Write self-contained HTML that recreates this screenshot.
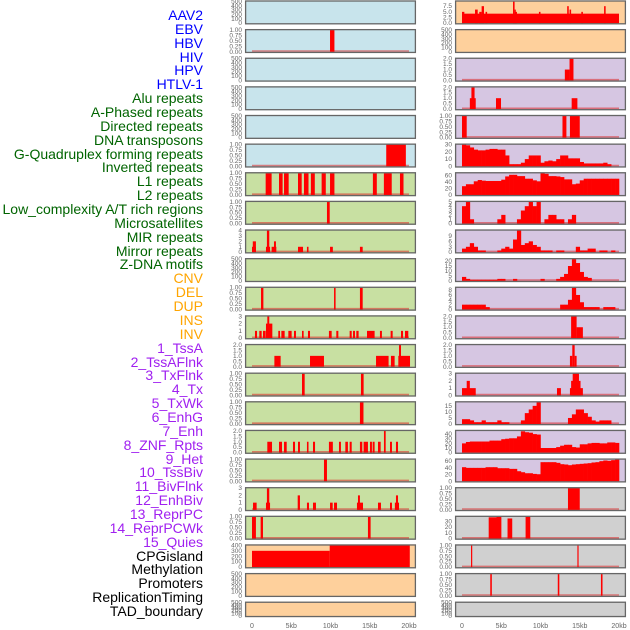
<!DOCTYPE html>
<html><head><meta charset="utf-8">
<style>
html,body{margin:0;padding:0;background:#fff;}
#wrap{position:relative;width:630px;height:630px;overflow:hidden;font-family:"Liberation Sans",sans-serif;}
.lab{position:absolute;right:427px;font-size:14px;line-height:14px;white-space:nowrap;}
svg{position:absolute;left:0;top:0;}
</style></head>
<body>
<div id="wrap">
<svg id="plot" width="630" height="630"></svg>
</div>
<script>
// ---- labels ----
const labelNames = ["AAV2","EBV","HBV","HIV","HPV","HTLV-1","Alu repeats","A-Phased repeats","Directed repeats","DNA transposons","G-Quadruplex forming repeats","Inverted repeats","L1 repeats","L2 repeats","Low_complexity A/T rich regions","Microsatellites","MIR repeats","Mirror repeats","Z-DNA motifs","CNV","DEL","DUP","INS","INV","1_TssA","2_TssAFlnk","3_TxFlnk","4_Tx","5_TxWk","6_EnhG","7_Enh","8_ZNF_Rpts","9_Het","10_TssBiv","11_BivFlnk","12_EnhBiv","13_ReprPC","14_ReprPCWk","15_Quies","CPGisland","Methylation","Promoters","ReplicationTiming","TAD_boundary"];
const labelGroups = [6,13,5,15,5];
const groupColors = ["#0000ff","#006400","#ffa500","#a020f0","#000000"];

// ---- tick sets ----
const T500 = [0,100,200,300,400,500];
const T1 = [0,0.25,0.5,0.75,1];
const T1L = ["0.00","0.25","0.50","0.75","1.00"];
const T2 = [0,0.5,1,1.5,2];
const T2L = ["0.0","0.5","1.0","1.5","2.0"];
const T3 = [0,1,2,3];
const T4 = [0,1,2,3,4];
const T400 = [0,100,200,300,400];
const TR0 = [0,2.5,5,7.5];
const TR0L = ["0.0","2.5","5.0","7.5"];
const T30 = [0,10,20,30];
const T60 = [0,20,40,60];
const T5 = [0,1,2,3,4,5];
const T9 = [0,3,6,9];
const T20 = [0,5,10,15,20];
const T8 = [0,2,4,6,8];
const T15 = [0,5,10,15];
const T40 = [0,10,20,30,40];
const xTicks = [0,5,10,15,20];
const xTickLabels = ["0","5kb","10kb","15kb","20kb"];

// ---- left column data (segments: [startKb, endKb, value]) ----
const ebvSegs = [[9.94,10.5,1]];
const gquadSegs = [[17.1,19.6,1]];
const l1Segs = [[1.74,2.5,1],[3.44,3.9,1],[4.08,4.67,1],[5.86,6.33,1],[6.62,7.2,1],[7.5,8.0,1],[8.87,9.4,1],[9.94,10.5,1],[15.4,15.9,1],[16.8,17.8,1],[18.85,19.3,1]];
const lowcSegs = [[9.55,9.9,1]];
const mirSegs = [[0,0.5,1],[0.1,0.5,2],[1.78,2.3,1],[1.9,2.2,4],[2.5,3.1,1],[2.8,3.05,2],[5.86,6.5,1],[7.0,7.2,1],[9.94,10.3,1],[13.75,14.1,1]];
const cnvSegs = [[1.15,1.45,1],[10.45,10.65,1],[13.75,14.1,1]];
const insSegs = [[0.38,0.64,1],[0.93,1.23,1],[1.4,1.74,1],[1.78,2.59,2],[1.95,2.2,3],[3.35,3.57,1],[3.74,4.16,1],[4.63,5.05,1],[5.35,5.6,1],[6.37,6.58,1],[7.13,7.39,1],[9.8,10.15,1],[10.74,11.0,1],[12.44,12.7,1],[12.87,13.12,1],[13.29,13.58,1],[14.65,15.62,1],[16.3,16.55,1],[17.66,17.92,1],[18.98,19.24,1],[19.49,19.91,1]];
const tssaSegs = [[2.85,3.65,1],[7.39,9.17,1],[15.8,17.4,1],[17.7,18.17,1],[18.64,20.13,1],[18.73,18.98,2]];
const txflnkSegs = [[6.37,6.71,1],[13.88,14.22,1]];
const txwkSegs = [[13.75,14.2,1]];
const enhSegs = [[13.75,14.1,1]];
const znfSegs = [[1.95,2.55,1],[3.44,3.82,1],[4.08,4.42,1],[5.22,5.48,1],[5.86,6.11,1],[7.0,7.2,1],[7.77,8.03,1],[9.8,10.3,1],[11.08,11.33,1],[11.89,12.22,1],[12.44,12.7,1],[13.75,14.05,1],[14.22,14.77,1],[15.03,15.28,1],[15.37,15.62,1],[16.05,16.39,1],[16.81,17.03,2],[17.58,17.83,1],[18.34,18.6,1]];
const tssbivSegs = [[9.17,9.55,1]];
const enhbivSegs = [[0.13,0.59,1],[1.78,2.3,1],[1.9,2.2,3],[5.82,6.11,2],[7.0,7.26,1],[7.77,8.15,1],[9.94,10.28,1],[10.45,10.83,1],[13.37,14.14,1],[13.5,13.75,2],[16.05,16.43,1],[17.58,17.83,1],[18.2,18.73,1],[18.34,18.6,2]];
const reprpcwkSegs = [[0,0.5,1],[1.1,1.4,1],[14.77,15.11,1]];
const cpgSegs = [[0,9.9,300],[9.9,20.1,400]];

// ---- right column data ----
const aav2Segs = [[0,20,4.2],[0,0.3,5],[1.66,2.0,6],[2.2,2.5,5],[2.5,2.8,7.5],[3.0,3.2,5],[6.5,6.7,9.5],[6.7,6.8,6],[6.8,7.0,5],[9.8,10.0,5],[13.4,13.6,7.5],[13.7,13.9,6],[15.2,15.4,5],[18.1,18.3,7.5]];
const r2Segs = [[13.1,13.7,1],[13.7,14.2,2]];
const r3Segs = [[1.0,1.75,1],[1.2,1.6,2],[4.33,4.97,1],[13.97,14.7,1]];
const r4Segs = [[0,0.6,1],[12.8,13.3,1],[13.75,15.0,1]];
const r5Bins = [30,29,26,23,22,22,23,24,24,23,23,15,3,3,3,5,10,15,15,15,5,7,8,7,10,15,15,11,11,11,6,4,4,4,4,4,5,3,0,0];
const r6Bins = [27,33,33,42,46,44,43,43,43,43,47,57,62,62,58,58,50,50,45,42,67,65,58,58,57,55,48,48,33,35,45,50,50,50,50,50,50,50,50,50];
const r7Bins = [4,5,1,0,0,0,0,0,0,1,2,0,0,0,1,3,4,5,4,5,0,1,2,2,1,1,0,1,2,0,0,0,0,0,0,0,0,0,0,0];
const r8Bins = [2,3,5,3,1,1,0,0,0,1,2,3,2,7,12,4,5,6,4,3,1,1,1,0,1,1,0,0,0,3,1,1,2,2,0,1,1,0,1,0];
const r9Bins = [4,2,1,1,1,1,1,1,1,2,2,0,0,2,0,0,0,0,0,0,2,0,0,0,2,4,7,15,22,18,9,4,3,0,0,0,0,0,0,0];
const r10Bins = [2,2,2,2,2,2,1,0,0,0,0,0,0,0,0,0,0,0,0,0,0,0,0,0,0,2,2,4,9,6,3,1,1,1,1,0,1,1,1,0];
const r11Segs = [[13.9,14.6,2],[14.6,15.4,1]];
const r12Segs = [[13.75,14.05,1],[14.05,14.35,2],[14.35,14.6,1]];
const r13Segs = [[0,1.75,1],[0.6,1.0,2],[12.1,12.6,1],[13.75,15.4,1],[13.9,15.1,2],[14.1,14.9,3]];
const r14Bins = [4,4,3,1.5,1.5,3,1.5,1.5,1.5,3,1.5,1.5,0,0,0,3,9,12,15,18,0,0,0,0,0,0,0,5,8,12,12,9,6,3,2,3,3,3,0,0];
const r15Bins = [20,23,24,24,24,24,24,26,26,26,29,30,31,31,35,46,44,43,40,39,10,10,10,10,12,15,17,17,12,11,18,18,20,21,21,20,20,22,22,21];
const r16Bins = [42,40,40,40,40,40,42,42,42,39,39,39,37,37,30,27,24,24,22,21,57,57,57,57,55,51,50,48,50,51,52,53,54,56,57,60,62,61,63,65];
const r17Segs = [[13.5,15.0,1]];
const r18Segs = [[3.4,5.0,37],[4.4,5.0,38],[5.8,6.4,35],[8.1,8.7,38]];
const r19Segs = [[1.15,1.3,1],[14.7,14.85,1]];
const r20Segs = [[3.6,3.8,1],[12.2,12.4,1],[17.7,17.9,1]];

const BLUE="#c8e4ec", GREEN="#c8e0a2", ORANGE="#fed09c", PURPLE="#d6c6e2", GRAY="#d0d0d0";
const leftPanels = [
 {bg:BLUE,t:T500,max:500},
 {bg:BLUE,t:T1,tl:T1L,max:1,segs:ebvSegs},
 {bg:BLUE,t:T500,max:500},
 {bg:BLUE,t:T500,max:500},
 {bg:BLUE,t:T500,max:500},
 {bg:BLUE,t:T1,tl:T1L,max:1,segs:gquadSegs},
 {bg:GREEN,t:T1,tl:T1L,max:1,segs:l1Segs},
 {bg:GREEN,t:T1,tl:T1L,max:1,segs:lowcSegs},
 {bg:GREEN,t:T4,max:4,segs:mirSegs},
 {bg:GREEN,t:T500,max:500},
 {bg:GREEN,t:T1,tl:T1L,max:1,segs:cnvSegs},
 {bg:GREEN,t:T3,max:3,segs:insSegs},
 {bg:GREEN,t:T2,tl:T2L,max:2,segs:tssaSegs},
 {bg:GREEN,t:T1,tl:T1L,max:1,segs:txflnkSegs},
 {bg:GREEN,t:T1,tl:T1L,max:1,segs:txwkSegs},
 {bg:GREEN,t:T2,tl:T2L,max:2,segs:znfSegs},
 {bg:GREEN,t:T1,tl:T1L,max:1,segs:tssbivSegs},
 {bg:GREEN,t:T3,max:3,segs:enhbivSegs},
 {bg:GREEN,t:T1,tl:T1L,max:1,segs:reprpcwkSegs},
 {bg:ORANGE,t:T400,max:400,segs:cpgSegs},
 {bg:ORANGE,t:T500,max:500},
 {bg:ORANGE,t:T500,max:500}
];
const rightPanels = [
 {bg:ORANGE,t:TR0,tl:TR0L,max:9.6,segs:aav2Segs},
 {bg:ORANGE,t:T500,max:500},
 {bg:PURPLE,t:T2,tl:T2L,max:2,segs:r2Segs},
 {bg:PURPLE,t:T2,tl:T2L,max:2,segs:r3Segs},
 {bg:PURPLE,t:T1,tl:T1L,max:1,segs:r4Segs},
 {bg:PURPLE,t:T30,max:30,bins:r5Bins},
 {bg:PURPLE,t:T60,max:67,bins:r6Bins},
 {bg:PURPLE,t:T5,max:5,bins:r7Bins},
 {bg:PURPLE,t:T9,max:12,bins:r8Bins},
 {bg:PURPLE,t:T20,max:22,bins:r9Bins},
 {bg:PURPLE,t:T8,max:9,bins:r10Bins},
 {bg:PURPLE,t:T2,tl:T2L,max:2,segs:r11Segs},
 {bg:PURPLE,t:T2,tl:T2L,max:2,segs:r12Segs},
 {bg:PURPLE,t:T3,max:3,segs:r13Segs},
 {bg:PURPLE,t:T15,max:18,bins:r14Bins},
 {bg:PURPLE,t:T40,max:47,bins:r15Bins},
 {bg:PURPLE,t:T60,max:65,bins:r16Bins},
 {bg:GRAY,t:T1,tl:T1L,max:1,segs:r17Segs},
 {bg:GRAY,t:T30,max:38,segs:r18Segs},
 {bg:GRAY,t:T1,tl:T1L,max:1,segs:r19Segs},
 {bg:GRAY,t:T1,tl:T1L,max:1,segs:r20Segs},
 {bg:GRAY,t:T500,max:500}
];

const NS="http://www.w3.org/2000/svg";
const svg=document.getElementById('plot');
const wrap=document.getElementById('wrap');
function mk(tag,attrs,parent){const e=document.createElementNS(NS,tag);for(const k in attrs)e.setAttribute(k,attrs[k]);(parent||svg).appendChild(e);return e;}

// labels
let li=0;
labelGroups.forEach((n,g)=>{for(let j=0;j<n;j++){const d=document.createElement('div');d.className='lab';d.style.top=(8+13.86*li)+'px';d.style.color=groupColors[g];d.textContent=labelNames[li];


wrap.appendChild(d);li++;}});

const colLeft=[245,455], colW=171;
function xS(kb,c){return colLeft[c]+7+kb*7.85;}
function panelTop(i){return 0.4+28.63*i;}
function panelH(i){return i===21?15.5:24;}

function drawCol(panels,c){
 panels.forEach((p,i)=>{
  const top=panelTop(i),h=panelH(i);
  const g=mk('g',{});
  
  
  const bg=mk('rect',{x:colLeft[c],y:top,width:colW,height:h,fill:p.bg},g);
  
  
  const yb=top+h-1.2, yt=top+1;
  const yS=v=>yb-v/p.max*(yb-yt);
  // ticks
  p.t.forEach((v,k)=>{const t=mk('text',{x:colLeft[c]-3,y:yS(v)+2,'font-size':'6.5','text-anchor':'end',fill:'#666'},g);t.textContent=p.tl?p.tl[k]:String(v);
   
   });
  const has=p.segs||p.bins;
  if(has){
   const bl=mk('line',{x1:xS(0,c),x2:xS(20,c),y1:yb-0.8,y2:yb-0.8,stroke:'rgba(220,40,40,0.55)','stroke-width':1.6},g);
   
   
  }
  if(p.segs){p.segs.forEach(s=>{const x0=xS(s[0],c),x1=xS(s[1],c);const r=mk('rect',{x:x0,y:yS(s[2]),width:Math.max(1.2,x1-x0),height:yb-yS(s[2]),fill:'#ff0000'},g);
   
   });}
  if(p.bins){p.bins.forEach((v,k)=>{if(v<=0)return;const x0=xS(k*0.5,c),x1=xS(k*0.5+0.5,c);const r=mk('rect',{x:x0,y:yS(v),width:x1-x0+0.3,height:yb-yS(v),fill:'#ff0000'},g);
   
   });}
  const br=mk('rect',{x:colLeft[c]+0.6,y:top+0.6,width:colW-1.2,height:h-1.2,fill:'none',stroke:'#666','stroke-width':1.3},g);
  
  
 });
 xTicks.forEach((v,k)=>{const t=mk('text',{x:xS(v,c),y:628,'font-size':'7','text-anchor':'middle',fill:'#666'});t.textContent=xTickLabels[k];
  
  });
}
drawCol(leftPanels,0);
drawCol(rightPanels,1);
</script>
</body></html>
